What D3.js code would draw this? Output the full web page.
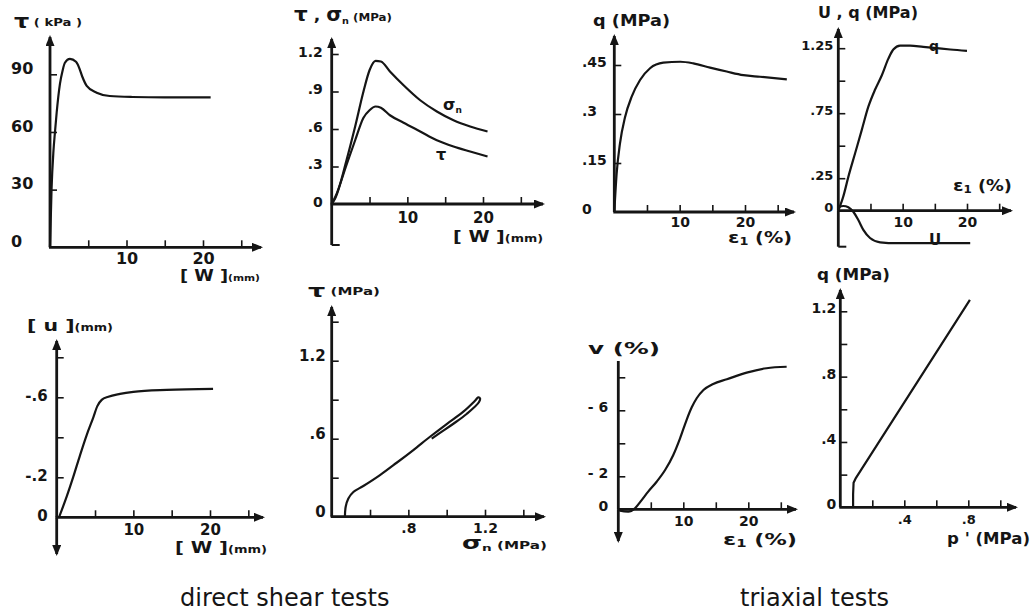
<!DOCTYPE html>
<html>
<head>
<meta charset="utf-8">
<script src="https://cdn.jsdelivr.net/npm/d3@7"></script>
<style>
  body { margin: 0; background: #fff; }
  svg { display: block; }
  .tick text { font-family: "DejaVu Sans", sans-serif; font-weight: bold; fill: #151515; }
  .lbl { font-family: "DejaVu Sans", sans-serif; font-weight: bold; fill: #151515; }
  .foot { font-family: "DejaVu Sans", sans-serif; font-size: 24px; fill: #151515; }
</style>
</head>
<body>
<svg id="fig" width="1034" height="614"></svg>
<script>
// ---- data ----

// direct shear: tau (kPa) against w (mm)
var p1W   = [0, 0.2, 0.45, 0.65, 0.87, 1.3, 1.65, 1.95, 2.6, 3.4, 3.8, 4.2, 4.8, 6.1, 7.8, 10.8, 15, 21];
var p1Tau = [0, 30, 50, 60, 70, 85, 92, 96, 98, 96.5, 93.5, 89, 84, 80.4, 78.7, 78.2, 78, 78];

// direct shear: sigma_n and tau (MPa) against w (mm)
var p2W     = [0, 0.5, 2, 3.1, 4.2, 5, 5.8, 6.5, 7.7, 9.5, 11.7, 13.9, 16.1, 18.3, 20.6];
var p2Sigma = [0, 0.05, 0.36, 0.62, 0.9, 1.07, 1.145, 1.14, 1.06, 0.95, 0.83, 0.74, 0.67, 0.62, 0.58];
var p2Tau   = [0, 0.06, 0.32, 0.51, 0.69, 0.75, 0.78, 0.77, 0.71, 0.65, 0.58, 0.51, 0.46, 0.42, 0.38];

// triaxial: q (MPa) against eps1 (%)
var p3Eps = [0, 0.36, 0.87, 1.64, 2.66, 3.94, 5.47, 7.5, 10.1, 12.1, 14.65, 17.2, 19.75, 22.3, 26.4];
var p3Q   = [0, 0.118, 0.21, 0.29, 0.353, 0.404, 0.44, 0.457, 0.46, 0.455, 0.442, 0.43, 0.419, 0.414, 0.406];

// triaxial: q and U (MPa) against eps1 (%)
var p4EpsQ = [0, 0.78, 1.56, 2.6, 3.64, 4.67, 5.7, 6.75, 7.78, 8.55, 9.6, 11.15, 13.2, 15.3, 17.4, 20];
var p4Q    = [0, 0.11, 0.26, 0.44, 0.62, 0.8, 0.93, 1.04, 1.17, 1.24, 1.27, 1.27, 1.26, 1.25, 1.24, 1.23];
var p4EpsU = [0, 0.78, 1.56, 2.33, 3.11, 3.89, 4.93, 6.5, 9.1, 20.5];
var p4U    = [0.026, 0.036, 0.026, -0.008, -0.072, -0.148, -0.21, -0.243, -0.25, -0.25];

// direct shear: u (mm) against w (mm)
var p5W = [0.3, 1.3, 2.17, 3.04, 3.9, 4.78, 5.3, 5.87, 6.74, 8.26, 10, 14.36, 20.4];
var p5U = [0, -0.103, -0.203, -0.31, -0.41, -0.5, -0.556, -0.587, -0.603, -0.617, -0.627, -0.637, -0.642];

// direct shear: tau (MPa) against sigma_n (MPa), out and back
var p6Sigma = [0.469, 0.473, 0.487, 0.513, 0.565, 0.652, 0.739, 0.826, 0.913, 1.0, 1.087, 1.148, 1.165, 1.174, 1.168, 1.104, 1.035, 0.965, 0.922];
var p6Tau   = [0, 0.077, 0.14, 0.19, 0.236, 0.32, 0.415, 0.513, 0.615, 0.713, 0.808, 0.892, 0.918, 0.91, 0.88, 0.79, 0.715, 0.645, 0.6];

// triaxial: v (%) against eps1 (%)
var p7Eps = [0, 0.26, 1.54, 2.56, 3.6, 4.6, 5.9, 7.2, 8.46, 9.5, 10.5, 11.3, 12.06, 13.1, 14.6, 16.7, 19.75, 22.8, 25.9];
var p7V   = [0, 0.08, 0.14, -0.06, -0.56, -1.07, -1.67, -2.38, -3.29, -4.3, -5.41, -6.18, -6.73, -7.23, -7.6, -7.88, -8.28, -8.55, -8.64];

// triaxial: q (MPa) against p' (MPa)
var p8P = [0.08, 0.08, 0.083, 0.095, 0.81];
var p8Q = [0, 0.08, 0.15, 0.175, 1.27];

// tick values and their printed labels ("" = tick mark only)
var wTicks = [5, 10, 15, 20, 25];
var wTickText = ["", "10", "", "20", ""];
var p1YTicks = [0, 30, 60, 90],            p1YTickText = ["0", "30", "60", "90"];
var p2YTicks = [0, 0.3, 0.6, 0.9, 1.2],    p2YTickText = ["0", ".3", ".6", ".9", "1.2"];
var p3YTicks = [0, 0.15, 0.3, 0.45],       p3YTickText = ["0", ".15", ".3", ".45"];
var p4YTicks = [0, 0.25, 0.5, 0.75, 1, 1.25], p4YTickText = ["0", ".25", "", ".75", "", "1.25"];
var p5YTicks = [0, -0.2, -0.4, -0.6, -0.8], p5YTickText = ["0", "-.2", "", "-.6", ""];
var p6XTicks = [0.6, 0.8, 1.0, 1.2, 1.4],  p6XTickText = ["", ".8", "", "1.2", ""];
var p6YTicks = [0, 0.3, 0.6, 0.9, 1.2, 1.5], p6YTickText = ["0", "", ".6", "", "1.2", ""];
var p7YTicks = [0, -2, -4, -6, -8],        p7YTickText = ["0", "- 2", "", "- 6", ""];
var p8XTicks = [0.2, 0.4, 0.6, 0.8, 1.0],  p8XTickText = ["", ".4", "", ".8", ""];
var p8YTicks = [0, 0.2, 0.4, 0.6, 0.8, 1.0, 1.2], p8YTickText = ["0", "", ".4", "", ".8", "", "1.2"];

var svg = d3.select("#fig");
var ink = "#151515";

var defs = svg.append("defs");
defs.append("marker")
  .attr("id", "arr")
  .attr("markerUnits", "userSpaceOnUse")
  .attr("markerWidth", 11).attr("markerHeight", 9)
  .attr("refX", 9).attr("refY", 4.5)
  .attr("orient", "auto")
  .append("path")
  .attr("d", "M0,0 L11,4.5 L0,9 Z")
  .attr("fill", ink);

// one small chart
function drawPanel(p) {
  var x = d3.scaleLinear().domain(p.xDom).range(p.xRange);
  var y = d3.scaleLinear().domain(p.yDom).range(p.yRange);
  var ox = p.xRange[0], oy = p.yRange[0];
  var g = svg.append("g");

  // y ticks (pointing inward) and labels
  var ya = g.append("g")
    .attr("transform", "translate(" + ox + ",0)")
    .call(d3.axisLeft(y).tickValues(p.yTicks).tickSize(-7).tickPadding(p.yPad || 6)
      .tickFormat(function(d, i) { return p.yText[i]; }));
  ya.select(".domain").remove();
  ya.selectAll(".tick line").attr("stroke", ink).attr("stroke-width", 1.6)
    .filter(function(d) { return d === 0; }).remove();
  ya.selectAll(".tick text").style("font-size", p.yFont + "px")
    .attr("transform", "translate(0," + (p.yDy || 0) + ")");
  if (p.yStart !== undefined) {
    ya.selectAll(".tick text").attr("text-anchor", "start").attr("x", p.yStart - ox);
  }

  // x ticks
  var xa = g.append("g")
    .attr("transform", "translate(0," + oy + ")")
    .call(d3.axisBottom(x).tickValues(p.xTicks).tickSize(-7).tickPadding(p.xPad || 6)
      .tickFormat(function(d, i) { return p.xText[i]; }));
  xa.select(".domain").remove();
  xa.selectAll(".tick line").attr("stroke", ink).attr("stroke-width", 1.6);
  xa.selectAll(".tick text").style("font-size", p.xFont + "px");

  // axis lines with arrow heads
  g.append("line")
    .attr("x1", ox).attr("x2", ox).attr("y1", oy).attr("y2", p.yTop)
    .attr("stroke", ink).attr("stroke-width", 2.8)
    .attr("marker-end", p.noTopArrow ? null : "url(#arr)");
  g.append("line")
    .attr("x1", ox - 1).attr("x2", p.xEnd).attr("y1", oy).attr("y2", oy)
    .attr("stroke", ink).attr("stroke-width", 2.8)
    .attr("marker-end", "url(#arr)");
  if (p.yBottom) {
    g.append("line")
      .attr("x1", ox).attr("x2", ox).attr("y1", oy).attr("y2", p.yBottom)
      .attr("stroke", ink).attr("stroke-width", 2.8)
      .attr("marker-end", p.downArrow ? "url(#arr)" : null);
    if (!p.downArrow) {
      g.append("line")
        .attr("x1", ox).attr("x2", ox + 8).attr("y1", p.yBottom).attr("y2", p.yBottom)
        .attr("stroke", ink).attr("stroke-width", 2);
    }
  }

  // curves
  p.series.forEach(function(s) {
    var curve = s.curve === "linear" ? d3.curveLinear
      : s.curve === "loop" ? d3.curveCatmullRom.alpha(0.5)
      : d3.curveMonotoneX;
    var line = d3.line()
      .x(function(d) { return x(d[0]); })
      .y(function(d) { return y(d[1]); })
      .curve(curve);
    g.append("path")
      .datum(d3.zip(s.x, s.y))
      .attr("d", line)
      .attr("fill", "none")
      .attr("stroke", ink)
      .attr("stroke-width", 2.2)
      .attr("stroke-linejoin", "round");
  });
}

// text label built from pieces: [text, size, dy]
function label(x, y, parts, width) {
  var t = svg.append("text").attr("class", "lbl").attr("x", x).attr("y", y);
  parts.forEach(function(q) {
    t.append("tspan").text(q[0]).style("font-size", q[1] + "px").attr("dy", q[2] || 0);
  });
  if (width) t.attr("textLength", width).attr("lengthAdjust", "spacingAndGlyphs");
  return t;
}

drawPanel({
  xDom: [0, 20], xRange: [50, 203], yDom: [0, 90], yRange: [247.3, 74.3],
  xEnd: 261, yTop: 37,
  xTicks: wTicks, xText: wTickText, xFont: 16, xPad: 5,
  yTicks: p1YTicks, yText: p1YTickText, yFont: 16, yStart: 11, yDy: -6,
  series: [{ x: p1W, y: p1Tau }]
});
drawPanel({
  xDom: [0, 20], xRange: [331.7, 483], yDom: [0, 1.2], yRange: [204, 54],
  xEnd: 543, yTop: 39, yBottom: 245,
  xTicks: wTicks, xText: wTickText, xFont: 15, xPad: 8,
  yTicks: p2YTicks, yText: p2YTickText, yFont: 14, yPad: 9, yDy: -2,
  series: [{ x: p2W, y: p2Sigma }, { x: p2W, y: p2Tau }]
});
drawPanel({
  xDom: [0, 20], xRange: [614.3, 745], yDom: [0, 0.45], yRange: [212, 65],
  xEnd: 794, yTop: 36,
  xTicks: wTicks, xText: wTickText, xFont: 14, xPad: 5,
  yTicks: p3YTicks, yText: p3YTickText, yFont: 14, yStart: 582, yDy: -3,
  series: [{ x: p3Eps, y: p3Q }]
});
drawPanel({
  xDom: [0, 20], xRange: [838.3, 967], yDom: [0, 1.25], yRange: [210.7, 48.2],
  xEnd: 1011, yTop: 29, yBottom: 246.7,
  xTicks: wTicks, xText: wTickText, xFont: 14, xPad: 6,
  yTicks: p4YTicks, yText: p4YTickText, yFont: 13, yPad: 5, yDy: -3,
  series: [{ x: p4EpsQ, y: p4Q }, { x: p4EpsU, y: p4U }]
});
drawPanel({
  xDom: [0, 20], xRange: [56.7, 210], yDom: [0, -0.8], yRange: [517.3, 357.3],
  xEnd: 263, yTop: 341, yBottom: 554, downArrow: true,
  xTicks: wTicks, xText: wTickText, xFont: 15, xPad: 7,
  yTicks: p5YTicks, yText: p5YTickText, yFont: 15, yPad: 9, yDy: -2,
  series: [{ x: p5W, y: p5U }]
});
drawPanel({
  xDom: [0.4, 1.2], xRange: [331.7, 485], yDom: [0, 1.2], yRange: [516.7, 360.7],
  xEnd: 544, yTop: 307,
  xTicks: p6XTicks, xText: p6XTickText, xFont: 14, xPad: 6,
  yTicks: p6YTicks, yText: p6YTickText, yFont: 15, yPad: 6, yDy: -5,
  series: [{ x: p6Sigma, y: p6Tau, curve: "loop" }]
});
drawPanel({
  xDom: [0, 20], xRange: [618.3, 748.3], yDom: [0, -8], yRange: [509.3, 377.3],
  xEnd: 796, yTop: 361, noTopArrow: true, yBottom: 541, downArrow: true,
  xTicks: wTicks, xText: wTickText, xFont: 14, xPad: 7,
  yTicks: p7YTicks, yText: p7YTickText, yFont: 14, yPad: 10, yDy: -3,
  series: [{ x: p7Eps, y: p7V }]
});
drawPanel({
  xDom: [0, 0.8], xRange: [840.3, 968.3], yDom: [0, 1.2], yRange: [507.3, 311.3],
  xEnd: 1016, yTop: 290,
  xTicks: p8XTicks, xText: p8XTickText, xFont: 13, xPad: 7,
  yTicks: p8YTicks, yText: p8YTickText, yFont: 14, yPad: 4, yDy: -3,
  series: [{ x: p8P, y: p8Q, curve: "linear" }]
});

// axis titles
label(14, 28, [["τ", 20], ["  ( kPa )", 11, -2]], 68);
label(180, 281, [["[ W ]", 15], ["(mm)", 9]], 80);
label(294, 21, [["τ", 20], ["  ,  ", 16], ["σ", 19], ["n", 9, 3], [" (MPa)", 11, -3]], 98);
label(453, 242, [["[ W ]", 15], ["(mm)", 10]], 90);
label(443, 110, [["σ", 16], ["n", 9, 3]]);
label(436, 160, [["τ", 16]]);
label(593, 26, [["q (MPa)", 15]], 77);
label(728, 243, [["ε", 16], ["1", 10, 2], [" (%)", 15, -2]], 64);
label(818, 18, [["U , q (MPa)", 15]], 100);
label(953, 191, [["ε", 16], ["1", 10, 2], [" (%)", 15, -2]], 59);
label(929, 51, [["q", 14]]);
label(929, 245, [["U", 15]]);
label(27, 331, [["[ u ]", 16], ["(mm)", 10]], 86);
label(175, 553, [["[ W ]", 15], ["(mm)", 10]], 92);
label(308, 297, [["τ", 18], ["  (MPa)", 10, -2]], 72);
label(462, 549, [["σ", 17], ["n", 9, 2], ["  (MPa)", 10, -2]], 85);
label(588, 354, [["v (%)", 15]], 72);
label(723, 545, [["ε", 16], ["1", 10, 2], [" (%)", 15, -2]], 74);
label(817, 280, [["q (MPa)", 15]], 73);
label(947, 544, [["p '  (MPa)", 15]], 83);

// captions
svg.append("text").attr("class", "foot").attr("x", 180).attr("y", 606).text("direct shear tests");
svg.append("text").attr("class", "foot").attr("x", 740).attr("y", 606).text("triaxial tests");
</script>
</body>
</html>
